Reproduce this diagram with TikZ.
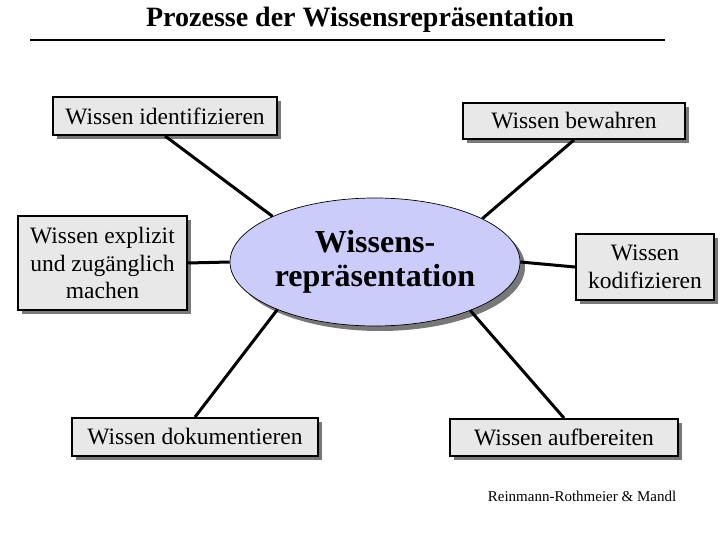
\documentclass[tikz,border=0pt]{standalone}
\usepackage{fontspec}
\setmainfont{Liberation Serif}
\usetikzlibrary{shapes.geometric,shadows}
\definecolor{wrlila}{RGB}{204,204,250}
\definecolor{wrgrau}{RGB}{232,232,232}
\definecolor{wrschatten}{RGB}{120,120,120}

\begin{document}
\begin{tikzpicture}[x=1pt, y=-1pt,
  procbox/.style={rectangle, draw, line width=1.9pt, fill=wrgrau, align=center,
                  inner sep=0pt, font=\fontsize{23.5}{27.5}\selectfont,
                  drop shadow={shadow xshift=4pt, shadow yshift=-4pt,
                               fill=wrschatten, opacity=1}},
  kernell/.style={ellipse, draw, line width=0.7pt, fill=wrlila, inner sep=0pt,
                  minimum width=290pt, minimum height=128pt, align=center,
                  font=\fontsize{32}{34}\selectfont\bfseries,
                  drop shadow={shadow xshift=5pt, shadow yshift=-5pt,
                               fill=wrschatten, opacity=1}},
  link/.style={line width=3pt}
]
\useasboundingbox (0,0) rectangle (720,540);

% Title
\node[font=\fontsize{28}{30}\selectfont\bfseries] (titel) at (360,20)
  {Prozesse der Wissensrepräsentation};
\draw[line width=2pt] (30,40) -- (665,40);

% Centre
\node[kernell] (wr) at (375,262) {Wissens-\\repräsentation};

% Process boxes
\node[procbox, minimum width=224pt, minimum height=38pt] (ident) at (165,116)
  {Wissen identifizieren};
\node[procbox, minimum width=169pt, minimum height=94pt] (expl) at (102.5,263)
  {Wissen explizit\\und zugänglich\\machen};
\node[procbox, minimum width=222pt, minimum height=36pt] (bewahr) at (574,121)
  {Wissen bewahren};
\node[procbox, minimum width=138pt, minimum height=66pt] (kodif) at (645,267)
  {Wissen\\kodifizieren};
\node[procbox, minimum width=246pt, minimum height=38pt] (doku) at (195,437)
  {Wissen dokumentieren};
\node[procbox, minimum width=228pt, minimum height=37pt] (aufb) at (564,437.5)
  {Wissen aufbereiten};

% Connectors
\draw[link] (ident.south) -- (wr.156);
\draw[link] (expl.east) -- (wr.west);
\draw[link] (bewahr.south) -- (wr.22);
\draw[link] (wr.east) -- (kodif.west);
\draw[link] (doku.north) -- (wr.206);
\draw[link] (aufb.north) -- (wr.333);

% Source
\node[font=\fontsize{15}{17}\selectfont] (quelle) at (582,496)
  {Reinmann-Rothmeier \& Mandl};

\end{tikzpicture}
\end{document}
